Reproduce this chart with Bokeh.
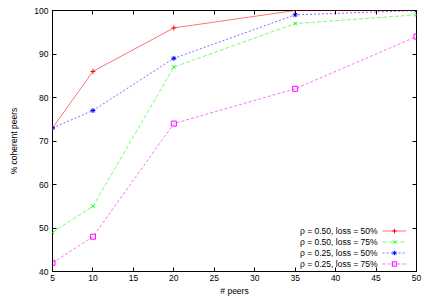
from bokeh.plotting import figure
from bokeh.models import LinearAxis, FixedTicker, Legend, LegendItem
from bokeh.embed import file_html
from bokeh.resources import INLINE

peers = [5, 10, 20, 35, 50]
r50_l50 = [73, 86, 96, 100, 100]
r50_l75 = [49, 55, 87, 97, 99]
r25_l50 = [73, 77, 89, 99, 100]
r25_l75 = [42, 48, 74, 82, 94]
labels = ["ρ = 0.50, loss = 50%", "ρ = 0.50, loss = 75%",
          "ρ = 0.25, loss = 50%", "ρ = 0.25, loss = 75%"]
x_ticks = [5, 10, 15, 20, 25, 30, 35, 40, 45, 50]
y_ticks = [40, 50, 60, 70, 80, 90, 100]

FONT = "Liberation Sans"

p = figure(width=425, height=298, output_backend="svg", toolbar_location=None,
           x_range=(5, 50), y_range=(40, 100),
           min_border_left=52, min_border_right=9, min_border_top=10, min_border_bottom=26)
p.grid.visible = False
p.outline_line_color = "black"
p.outline_line_width = 1
p.background_fill_color = "white"
p.border_fill_color = "white"

def style_axis(ax, show_labels=True):
    ax.major_tick_in = 4
    ax.major_tick_out = 0
    ax.minor_tick_line_color = None
    ax.axis_line_color = None
    ax.major_tick_line_color = "black"
    ax.major_label_text_font = FONT
    ax.major_label_text_color = "black"
    if show_labels:
        ax.major_label_text_font_size = "8.5px"
        ax.major_label_standoff = 3
    else:
        ax.major_label_text_font_size = "0px"
        ax.major_label_standoff = 0
        ax.major_label_text_alpha = 0

xa = p.xaxis[0]
ya = p.yaxis[0]
xa.ticker = FixedTicker(ticks=x_ticks)
ya.ticker = FixedTicker(ticks=y_ticks)
style_axis(xa)
style_axis(ya)
xa.axis_label = "# peers"
ya.axis_label = "% coherent peers"
for ax in (xa, ya):
    ax.axis_label_text_font = FONT
    ax.axis_label_text_font_size = "8.5px"
    ax.axis_label_text_font_style = "normal"
    ax.axis_label_text_color = "black"
xa.axis_label_standoff = 2
xa.major_label_standoff = 3
ya.axis_label_standoff = 12
ya.major_label_standoff = 4

top = LinearAxis(ticker=FixedTicker(ticks=x_ticks))
right = LinearAxis(ticker=FixedTicker(ticks=y_ticks))
style_axis(top, False)
style_axis(right, False)
p.add_layout(top, "above")
p.add_layout(right, "right")

series = [
    (r50_l50, "#ff0000", "solid", "cross"),
    (r50_l75, "#00ff00", "4 2", "x"),
    (r25_l50, "#0000ff", "2 2", "asterisk"),
    (r25_l75, "#ff00ff", "3 2", "square"),
]
text_items = []
glyph_items = []
for (vals, col, dash, mk), lab in zip(series, labels):
    ln = p.line(peers, vals, line_color=col, line_width=1, line_dash=dash, line_alpha=0.55)
    sc = p.scatter(peers, vals, marker=mk, size=5, line_color=col, fill_color=None, line_width=1)
    text_items.append(LegendItem(label=lab, renderers=[ln, sc]))
    glyph_items.append(LegendItem(label=" ", renderers=[ln, sc]))

def style_legend(lg):
    lg.label_text_font = FONT
    lg.label_text_font_size = "8.5px"
    lg.label_text_color = "black"
    lg.label_height = 11
    lg.glyph_height = 11
    lg.spacing = -3
    lg.padding = 0
    lg.margin = 0
    lg.border_line_color = None
    lg.background_fill_alpha = 0
    lg.click_policy = "none"

# text column (gnuplot puts the key text left of the sample)
legend_text = Legend(items=text_items, location=(248, 2))
style_legend(legend_text)
legend_text.glyph_width = 0
legend_text.label_standoff = 0

# sample column (same rows)
legend_glyph = Legend(items=glyph_items, location=(330, 2))
style_legend(legend_glyph)
legend_glyph.glyph_width = 24
legend_glyph.label_standoff = 0

p.add_layout(legend_text)
p.add_layout(legend_glyph)

open("out.html", "w").write(file_html(p, INLINE))
